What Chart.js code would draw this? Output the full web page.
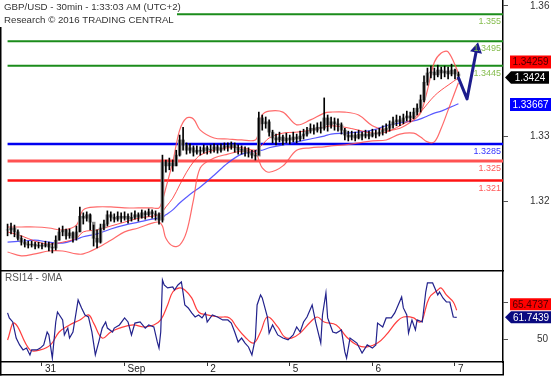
<!DOCTYPE html>
<html><head><meta charset="utf-8">
<script src="https://cdn.jsdelivr.net/npm/chart.js@4.4.0/dist/chart.umd.min.js"></script>
<style>
html,body{margin:0;padding:0;background:#fff;overflow:hidden;}
#wrap{position:relative;width:554px;height:377px;background:#fff;}
#main{position:absolute;left:0;top:0;}
#rsi{position:absolute;left:0;top:270px;}
</style></head><body>
<div id="wrap"><canvas id="main" width="554" height="270"></canvas><canvas id="rsi" width="554" height="107"></canvas></div>
<script>
// ---------- DATA ----------
const titleLine1 = 'GBP/USD - 30min - 1:33:03 AM (UTC+2)';
const titleLine2 = 'Research \u00A9 2016 TRADING CENTRAL';
const rsiTitle = 'RSI14 - 9MA';

// time axis: trading hours counted from Aug 30 00:00 (weekend skipped)
const dayTickHours = [24, 48, 72, 96, 120, 144];
const dayTickLabels = ['31', 'Sep', '2', '5', '6', '7'];

// hourly price bars
const priceHours = [14,15,16,17,18,19,20,21,22,23,24,25,26,27,28,29,30,31,32,33,34,35,36,37,38,39,40,41,42,43,44,45,46,47,48,49,50,51,52,53,54,55,56,57,58,59,60,61,62,63,64,65,66,67,68,69,70,71,72,73,74,75,76,77,78,79,80,81,82,83,84,85,86,87,88,89,90,91,92,93,94,95,96,97,98,99,100,101,102,103,104,105,106,107,108,109,110,111,112,113,114,115,116,117,118,119,120,121,122,123,124,125,126,127,128,129,130,131,132,133,134,135,136,137,138,139,140,141,142,143,144,145];
const priceClose = [1.3109,1.3113,1.3105,1.3092,1.3084,1.3080,1.3078,1.3080,1.3076,1.3078,
 1.3076,1.3080,1.3074,1.3072,1.3088,1.3105,1.3109,1.3097,1.3103,1.3092,
 1.3105,1.3137,1.3133,1.3140,1.3125,1.3092,1.3084,1.3113,1.3121,1.3140,
 1.3135,1.3131,1.3137,1.3133,1.3137,1.3131,1.3135,1.3140,1.3135,1.3144,
 1.3140,1.3146,1.3142,1.3140,1.3129,1.3248,1.3240,1.3246,1.3240,1.3262,
 1.3293,1.3283,1.3272,1.3277,1.3268,1.3272,1.3270,1.3277,1.3272,1.3274,
 1.3279,1.3272,1.3277,1.3281,1.3279,1.3283,1.3277,1.3272,1.3274,1.3268,
 1.3266,1.3262,1.3260,1.3338,1.3326,1.3330,1.3309,1.3297,1.3293,1.3299,
 1.3291,1.3297,1.3293,1.3299,1.3295,1.3301,1.3305,1.3311,1.3317,1.3313,
 1.3319,1.3317,1.3338,1.3324,1.3330,1.3326,1.3324,1.3313,1.3303,1.3299,
 1.3303,1.3297,1.3305,1.3301,1.3305,1.3301,1.3307,1.3305,1.3309,1.3313,
 1.3317,1.3324,1.3330,1.3334,1.3330,1.3338,1.3342,1.3338,1.3350,1.3358,
 1.3375,1.3411,1.3430,1.3432,1.3426,1.3436,1.3430,1.3434,1.3428,1.3436,
 1.3428,1.3424];
const priceHigh = [1.3121,1.3123,1.3119,1.3109,1.3097,1.3090,1.3086,1.3086,1.3084,1.3084,
 1.3082,1.3086,1.3084,1.3082,1.3097,1.3113,1.3117,1.3111,1.3111,1.3105,
 1.3117,1.3156,1.3144,1.3146,1.3142,1.3119,1.3109,1.3121,1.3129,1.3148,
 1.3146,1.3142,1.3146,1.3144,1.3146,1.3142,1.3144,1.3148,1.3144,1.3150,
 1.3148,1.3152,1.3150,1.3148,1.3144,1.3262,1.3252,1.3256,1.3252,1.3272,
 1.3303,1.3319,1.3287,1.3285,1.3281,1.3281,1.3279,1.3283,1.3281,1.3283,
 1.3285,1.3283,1.3285,1.3287,1.3287,1.3289,1.3287,1.3283,1.3281,1.3279,
 1.3277,1.3272,1.3272,1.3350,1.3344,1.3340,1.3334,1.3313,1.3305,1.3309,
 1.3303,1.3307,1.3303,1.3309,1.3305,1.3311,1.3315,1.3319,1.3326,1.3324,
 1.3328,1.3330,1.3379,1.3344,1.3340,1.3338,1.3336,1.3328,1.3317,1.3311,
 1.3311,1.3309,1.3313,1.3309,1.3313,1.3311,1.3315,1.3313,1.3317,1.3322,
 1.3326,1.3332,1.3340,1.3344,1.3342,1.3346,1.3352,1.3350,1.3358,1.3367,
 1.3385,1.3424,1.3440,1.3444,1.3440,1.3446,1.3442,1.3444,1.3442,1.3448,
 1.3438,1.3432];
const priceLow = [1.3097,1.3101,1.3095,1.3088,1.3078,1.3074,1.3072,1.3074,1.3070,1.3072,
 1.3070,1.3074,1.3066,1.3062,1.3068,1.3088,1.3097,1.3090,1.3092,1.3084,
 1.3088,1.3105,1.3121,1.3127,1.3109,1.3076,1.3072,1.3082,1.3109,1.3117,
 1.3127,1.3125,1.3127,1.3125,1.3129,1.3123,1.3127,1.3131,1.3127,1.3133,
 1.3131,1.3137,1.3133,1.3129,1.3121,1.3125,1.3227,1.3232,1.3229,1.3240,
 1.3260,1.3272,1.3264,1.3266,1.3260,1.3264,1.3262,1.3266,1.3264,1.3266,
 1.3268,1.3266,1.3268,1.3272,1.3270,1.3274,1.3268,1.3264,1.3264,1.3260,
 1.3258,1.3256,1.3252,1.3262,1.3313,1.3317,1.3301,1.3287,1.3283,1.3289,
 1.3283,1.3287,1.3285,1.3289,1.3287,1.3291,1.3295,1.3301,1.3307,1.3305,
 1.3309,1.3307,1.3313,1.3311,1.3317,1.3313,1.3311,1.3305,1.3293,1.3291,
 1.3293,1.3291,1.3295,1.3293,1.3297,1.3295,1.3299,1.3297,1.3301,1.3303,
 1.3307,1.3311,1.3317,1.3322,1.3322,1.3326,1.3332,1.3330,1.3336,1.3344,
 1.3350,1.3371,1.3405,1.3420,1.3416,1.3422,1.3418,1.3422,1.3418,1.3424,
 1.3418,1.3416];

// Bollinger bands and moving average (sampled)
const bandHours = [14,18,22,26,30,34,36,40,44,48,52,56,58,59,60,62,64,66,68,70,74,78,82,86,87,88,90,94,98,102,106,108,112,116,120,124,128,132,134,136,138,140,142,145];
const bandUpper = [1.3115,1.3115,1.3115,1.3113,1.3109,1.3119,1.3150,1.3156,1.3156,1.3154,
 1.3154,1.3154,1.3154,1.3170,1.3195,1.3248,1.3313,1.3338,1.3336,1.3313,
 1.3297,1.3295,1.3293,1.3293,1.3313,1.3344,1.3352,1.3350,1.3324,1.3334,
 1.3348,1.3350,1.3350,1.3344,1.3322,1.3313,1.3317,1.3334,1.3348,1.3395,
 1.3452,1.3471,1.3473,1.3430];
const bandMiddle = [1.3105,1.3097,1.3086,1.3080,1.3084,1.3092,1.3105,1.3109,1.3117,1.3125,
 1.3133,1.3137,1.3140,1.3146,1.3156,1.3174,1.3201,1.3227,1.3248,1.3262,
 1.3272,1.3277,1.3277,1.3272,1.3277,1.3283,1.3297,1.3307,1.3309,1.3313,
 1.3319,1.3322,1.3319,1.3313,1.3307,1.3309,1.3322,1.3338,1.3350,1.3367,
 1.3383,1.3395,1.3405,1.3420];
const bandLower = [1.3064,1.3056,1.3060,1.3066,1.3066,1.3060,1.3060,1.3072,1.3088,1.3105,
 1.3113,1.3123,1.3125,1.3117,1.3092,1.3076,1.3078,1.3105,1.3170,1.3236,
 1.3256,1.3264,1.3270,1.3268,1.3252,1.3236,1.3227,1.3240,1.3272,1.3277,
 1.3279,1.3281,1.3283,1.3287,1.3291,1.3293,1.3305,1.3307,1.3299,1.3289,
 1.3289,1.3317,1.3354,1.3410];
const movingAvg = [1.3084,1.3086,1.3088,1.3084,1.3082,1.3090,1.3095,1.3101,1.3111,1.3119,
 1.3125,1.3131,1.3133,1.3135,1.3140,1.3150,1.3164,1.3176,1.3187,1.3197,
 1.3221,1.3246,1.3264,1.3270,1.3272,1.3272,1.3277,1.3283,1.3289,1.3295,
 1.3301,1.3305,1.3307,1.3309,1.3313,1.3322,1.3328,1.3332,1.3336,1.3342,
 1.3348,1.3352,1.3358,1.3367];

// support / resistance levels
const resistanceLevels = [1.355, 1.3495, 1.3445];
const pivotLevel = [1.3285];
const supportLevels = [1.325, 1.321];

// forecast arrow
const forecastHours = [144.9, 147.5, 150.3];
const forecastPrices = [1.3422, 1.3377, 1.3479];

// price axis
const priceTickValues = [1.3567, 1.3301, 1.3168];
const priceTickLabels = ['1.36', '1.33', '1.32'];
const lastPrice = 1.3424;
const upperTag = 1.34259;
const maTag = 1.33667;

// RSI panel
const rsiHours = [14,14.5,15.5,16.5,17.5,18.5,19.5,20.5,21,22.5,23.5,24.5,25.5,26,27,28,28.5,30,30.5,31.5,32,33,34.5,35.5,36.5,37.5,38.5,39.5,40.5,41.5,42.5,43,44.5,45,46.5,48,49,50,51,52.5,54,55,56.5,57.5,58,58.5,59,59.5,60.5,62,62.5,63.5,64.5,65,65.5,66.5,67.5,68.5,69.5,70.5,71.5,72,73.5,75,76.5,78,79,80,81,82,83,84,85,86,86.5,87.5,88,89.5,90,91,92.5,94,95.5,97,98,99,100,101,102.5,103.5,105,105.5,106.5,107,108.5,109.5,111,112,112.5,113.5,115.5,117,118.5,120,121,121.5,123,124,125.5,126.5,127.5,128.5,129,130,130.5,131.5,132.5,133,134.5,135.5,136,137.5,139,139.5,140.5,141.5,142.5,143.5,144.5];
const rsiValues = [64.1,61.4,59.2,50.5,46.8,44.1,45.1,41.4,44.1,44.1,45.1,46.8,53.8,52.2,39.7,59.2,64.6,60.3,52.2,55.9,
 50.5,53.8,71.1,66.8,63.0,61.9,53.8,41.4,48.4,55.9,59.2,55.9,53.8,55.9,57.6,61.4,59.2,52.2,58.6,59.2,
 55.9,57.6,56.5,48.4,45.1,53.8,81.9,79.2,77.6,78.1,76.5,79.2,80.8,74.9,68.4,66.8,64.1,61.9,63.0,61.4,
 64.1,59.2,63.0,61.9,60.3,60.3,58.6,53.8,48.4,50.5,47.8,45.7,41.4,50.5,68.4,73.8,72.2,61.9,53.2,57.6,
 52.2,50.5,49.5,52.2,56.5,53.8,59.2,61.9,68.4,59.2,47.8,63.0,74.9,61.4,53.8,53.2,54.9,43.0,39.7,50.5,
 47.8,42.4,46.8,45.1,46.8,58.6,56.5,61.4,61.4,64.1,68.4,72.7,66.8,63.0,53.2,60.3,54.9,60.3,59.2,75.4,
 80.3,80.3,73.8,75.4,72.2,70.0,70.0,61.9,61.7];
const rsiMaHours = [14,16,20.5,23.5,26.5,29,32,35,37.5,39,41.5,44,46.5,50.5,53.5,56.5,58.5,60.5,62,64,65.5,67.5,69.5,72,75.5,78.5,80.5,83,85.5,87.5,89.5,92.5,94.5,96.5,99,102,104,106,109.5,112.5,115.5,118.5,121.5,124,127,129,132,133.5,134.5,136.5,139,140,141.5,143.5,144.5];
const rsiMaValues = [49.5,58.6,44.1,44.1,46.8,53.8,57.6,60.3,63.0,58.6,50.5,53.8,55.9,57.6,56.5,57.6,60.3,68.4,75.4,77.6,
 76.5,72.2,64.6,63.0,61.9,61.4,56.5,51.1,47.8,53.8,61.9,56.5,51.1,50.5,53.2,59.2,61.9,59.2,57.6,51.1,
 46.8,45.7,47.8,52.2,59.2,61.9,61.4,59.2,60.3,72.2,76.5,77.6,73.8,70.0,65.5];
const rsiTickValues = [50, 70];
const rsiTickLabels = ['50', ''];
const rsiLastTag = 61.7439;
const rsiMaLastTag = 65.4737;

// axis ranges
const X_MIN = 11.80, X_MAX = 157.95;
const P_MIN = 1.30271, P_MAX = 1.35792;
const R_MIN = 37.57, R_MAX = 87.3;

// ---------- BUILD ----------
const FONT = "'Liberation Sans', Arial, sans-serif";
Chart.defaults.font.family = FONT;
Chart.defaults.font.size = 10;
Chart.defaults.color = '#333';

const pts = (xs, ys) => xs.map((x, i) => ({x, y: ys[i]}));
const wicks = priceHours.map((h, i) => ({x: h, y: [priceLow[i], priceHigh[i]]}));
const bodies = priceHours.map((h, i) => {
  const o = i === 0 ? priceClose[0] : priceClose[i - 1];
  return {x: h, y: [Math.min(o, priceClose[i]), Math.max(o, priceClose[i])]};
});
const levelLine = (v) => [{x: priceHours[0], y: v}, {x: X_MAX, y: v}];

const allLevels = [];
resistanceLevels.forEach(v => allLevels.push({v, line: '#1b8c1b', text: '#86bd4f', w: 2}));
pivotLevel.forEach(v => allLevels.push({v, line: '#0000f0', text: '#3636ff', w: 2.5}));
allLevels.push({v: supportLevels[0], line: '#ff5252', text: '#ff5a5a', w: 3});
allLevels.push({v: supportLevels[1], line: '#ff1414', text: '#ff5a5a', w: 2.5});

const lineDs = (data, color, w, order, tension) => ({
  type: 'line', data, borderColor: color, borderWidth: w, pointRadius: 0,
  fill: false, tension: tension || 0, order
});

const mainDatasets = [
  {type: 'line', data: pts(forecastHours, forecastPrices), borderColor: '#1c1c8c', borderWidth: 3,
   pointRadius: [0, 0, 7], pointStyle: 'triangle', pointRotation: 11.5,
   pointBackgroundColor: '#1c1c8c', pointBorderWidth: 0, borderJoinStyle: 'round', order: 0, clip: false},
  {type: 'bar', data: wicks, backgroundColor: '#000', barThickness: 1, grouped: false, order: 1, borderWidth: 0},
  {type: 'bar', data: bodies, backgroundColor: '#8a8a8a', barThickness: 3, grouped: false, order: 2, borderWidth: 0},
  lineDs(pts(bandHours, bandUpper), 'rgba(255,80,80,0.85)', 1.2, 3, 0.35),
  lineDs(pts(bandHours, bandMiddle), 'rgba(255,40,40,0.8)', 1, 3, 0.35),
  lineDs(pts(bandHours, bandLower), 'rgba(255,80,80,0.85)', 1.2, 3, 0.35),
  lineDs(pts(bandHours, movingAvg), 'rgba(60,60,255,0.85)', 1.2, 4, 0.35),
];
allLevels.forEach(l => mainDatasets.push(lineDs(levelLine(l.v), l.line, l.w, 6)));

function drawTag(ctx, x, yc, w, h, bg, fg, text, arrow) {
  ctx.save();
  ctx.fillStyle = bg;
  ctx.beginPath();
  if (arrow) {
    ctx.moveTo(x - 6, yc);
    ctx.lineTo(x, yc - h / 2);
    ctx.lineTo(x + w, yc - h / 2);
    ctx.lineTo(x + w, yc + h / 2);
    ctx.lineTo(x, yc + h / 2);
    ctx.closePath();
  } else {
    ctx.rect(x, yc - h / 2, w, h);
  }
  ctx.fill();
  ctx.fillStyle = fg;
  ctx.font = '10px ' + FONT;
  ctx.textAlign = 'center';
  ctx.textBaseline = 'middle';
  ctx.fillText(text, x + w / 2, yc + 0.5);
  ctx.restore();
}

const mainDecor = {
  id: 'mainDecor',
  afterDraw(chart) {
    const ctx = chart.ctx, ya = chart.scales.y, ca = chart.chartArea;
    ctx.save();
    ctx.font = '9px ' + FONT;
    ctx.textAlign = 'right';
    ctx.textBaseline = 'middle';
    allLevels.forEach(l => {
      const y = ya.getPixelForValue(l.v);
      ctx.fillStyle = l.text;
      ctx.fillText(String(l.v), ca.right - 2, y + 7.5);
    });
    ctx.fillStyle = '#000';
    ctx.fillRect(0, 0, 1.5, ca.bottom);
    ctx.fillStyle = '#fff';
    ctx.fillRect(0, 0, 177, 27);
    ctx.fillStyle = '#333';
    ctx.textAlign = 'left';
    ctx.font = '9.7px ' + FONT;
    ctx.fillText(titleLine1, 4, 7);
    ctx.fillText(titleLine2, 4, 20);
    ctx.restore();
    const yLast = ya.getPixelForValue(lastPrice) + 1.5;
    drawTag(ctx, 510, yLast - 15.5, 41, 13, '#ff0000', '#4a0000', upperTag.toFixed(5), false);
    drawTag(ctx, 511, yLast, 38, 12.5, '#000', '#fff', lastPrice.toFixed(4), true);
    drawTag(ctx, 510, ya.getPixelForValue(maTag) + 0.5, 41, 13, '#0000ff', '#fff', maTag.toFixed(5), false);
  }
};

new Chart(document.getElementById('main'), {
  type: 'line',
  data: {datasets: mainDatasets},
  options: {
    responsive: false, animation: false, devicePixelRatio: 1, events: [],
    layout: {padding: 0, autoPadding: false},
    plugins: {legend: {display: false}, tooltip: {enabled: false}},
    scales: {
      x: {type: 'linear', min: X_MIN, max: X_MAX, display: false, offset: false},
      y: {type: 'linear', position: 'right', min: P_MIN, max: P_MAX,
        afterBuildTicks: s => { s.ticks = priceTickValues.map(v => ({value: v})); },
        afterFit: s => { s.width = 51; s.paddingTop = 0; s.paddingBottom = 0; },
        ticks: {autoSkip: false, padding: 22, color: '#333', font: {size: 10},
          callback: (v, i) => priceTickLabels[i]},
        grid: {drawOnChartArea: false, drawTicks: true, tickLength: 5, color: '#555'},
        border: {display: true, color: '#000', width: 1.5}
      }
    }
  },
  plugins: [mainDecor]
});

const rsiDecor = {
  id: 'rsiDecor',
  afterDraw(chart) {
    const ctx = chart.ctx, ya = chart.scales.y, ca = chart.chartArea;
    ctx.save();
    ctx.fillStyle = '#000';
    ctx.fillRect(0, 0, ca.right + 1, 1.5);
    ctx.fillRect(0, 0, 1.5, 105.5);
    ctx.fillRect(0, 104, ca.right + 1, 1.5);
    ctx.fillRect(ca.right - 0.5, ca.bottom, 1.5, 13);
    ctx.fillStyle = '#555';
    ctx.font = '10px ' + FONT;
    ctx.textAlign = 'left';
    ctx.textBaseline = 'middle';
    ctx.fillText(rsiTitle, 5, 8.5);
    ctx.restore();
    const yR = ya.getPixelForValue(rsiLastTag);
    drawTag(ctx, 511, yR, 40, 12, '#0a0a80', '#fff', rsiLastTag.toFixed(4), true);
    drawTag(ctx, 510, yR - 13, 41, 12, '#ff0000', '#4a0000', rsiMaLastTag.toFixed(4), false);
  }
};

new Chart(document.getElementById('rsi'), {
  type: 'line',
  data: {datasets: [
    lineDs(pts(rsiHours, rsiValues), '#22228c', 1.2, 1, 0),
    lineDs(pts(rsiMaHours, rsiMaValues), 'rgba(255,40,40,0.9)', 1.2, 2, 0.4)
  ]},
  options: {
    responsive: false, animation: false, devicePixelRatio: 1, events: [],
    layout: {padding: 0, autoPadding: false},
    plugins: {legend: {display: false}, tooltip: {enabled: false}},
    scales: {
      x: {type: 'linear', min: X_MIN, max: X_MAX, offset: false, position: 'bottom',
        afterBuildTicks: s => { s.ticks = dayTickHours.map(v => ({value: v})); },
        afterFit: s => { s.height = 15; s.paddingLeft = 0; s.paddingRight = 0; },
        ticks: {autoSkip: false, maxRotation: 0, align: 'start', labelOffset: 3, padding: -3,
          color: '#222', font: {size: 10}, callback: (v, i) => dayTickLabels[i]},
        grid: {drawOnChartArea: false, drawTicks: true, tickLength: 4, color: '#333'},
        border: {display: true, color: '#000', width: 1.5}
      },
      y: {type: 'linear', position: 'right', min: R_MIN, max: R_MAX,
        afterBuildTicks: s => { s.ticks = rsiTickValues.map(v => ({value: v})); },
        afterFit: s => { s.width = 51; s.paddingTop = 0; s.paddingBottom = 0; },
        ticks: {autoSkip: false, padding: 29, color: '#333', font: {size: 10},
          callback: (v, i) => rsiTickLabels[i]},
        grid: {drawOnChartArea: false, drawTicks: true, tickLength: 5, color: '#555'},
        border: {display: true, color: '#000', width: 1.5}
      }
    }
  },
  plugins: [rsiDecor]
});
</script>
</body></html>
